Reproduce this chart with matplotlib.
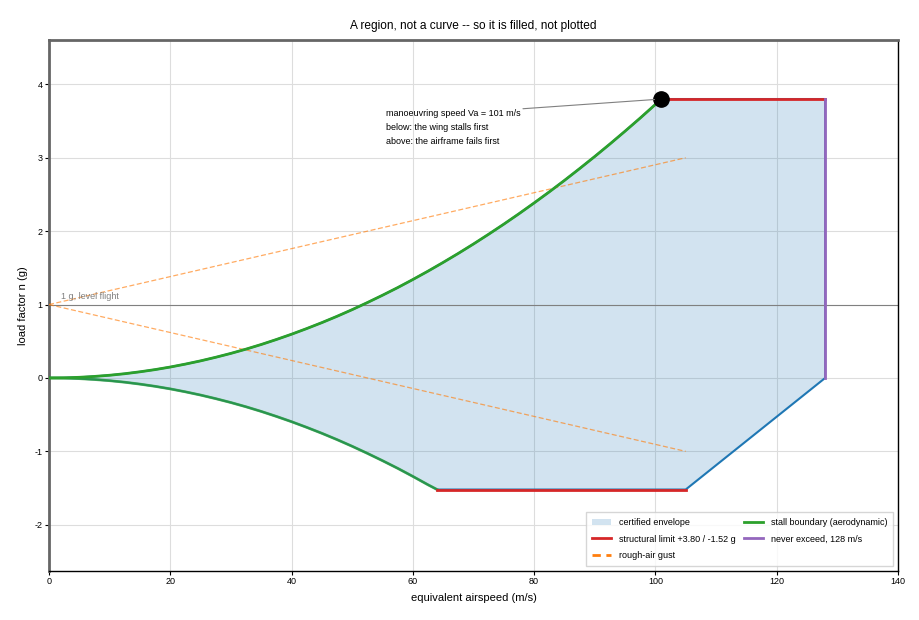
import matplotlib
matplotlib.use("Agg")
import matplotlib.pyplot as plt
from matplotlib.lines import Line2D
from matplotlib.patches import Patch

plt.rcParams['font.family'] = ['Liberation Sans', 'DejaVu Sans']
plt.rcParams['axes.unicode_minus'] = False

# ---- data ----
stall_pos_v = [0, 2.5, 5, 7.5, 10, 12.5, 15, 17.5, 20, 22.5, 25, 27.5, 30, 32.5, 35, 37.5, 40,
               42.5, 45, 47.5, 50, 52.5, 55, 57.5, 60, 62.5, 65, 67.5, 70, 72.5, 75, 77.5, 80,
               82.5, 85, 87.5, 90, 92.5, 95, 97.5, 101]
stall_pos_n = [0, 0.002, 0.009, 0.021, 0.037, 0.058, 0.084, 0.114, 0.149, 0.189, 0.233, 0.282,
               0.335, 0.393, 0.456, 0.524, 0.596, 0.673, 0.754, 0.840, 0.931, 1.027, 1.127,
               1.231, 1.341, 1.455, 1.574, 1.697, 1.825, 1.958, 2.095, 2.237, 2.384, 2.535,
               2.691, 2.852, 3.017, 3.187, 3.362, 3.541, 3.800]
stall_neg_v = [0, 2.5, 5, 7.5, 10, 12.5, 15, 17.5, 20, 22.5, 25, 27.5, 30, 32.5, 35, 37.5, 40,
               42.5, 45, 47.5, 50, 52.5, 55, 57.5, 60, 62.5, 64]
stall_neg_n = [0, -0.002, -0.009, -0.021, -0.037, -0.058, -0.084, -0.114, -0.149, -0.189,
               -0.233, -0.282, -0.335, -0.393, -0.456, -0.524, -0.596, -0.673, -0.754, -0.840,
               -0.931, -1.027, -1.127, -1.231, -1.341, -1.455, -1.520]
v_a = 101
v_neg_stall = 64
v_c = 105
v_ne = 128
n_pos = 3.80
n_neg = -1.52
gust_v = [0, 105]
gust_up = [1.0, 3.0]
gust_dn = [1.0, -1.0]

C_BLUE, C_GREEN, C_RED, C_PURP, C_ORNG = '#1f77b4', '#2ca02c', '#d62728', '#9467bd', '#ff7f0e'

fig = plt.figure(figsize=(9.2, 6.2), dpi=100)
ax = fig.add_axes([0.0533, 0.079, 0.9227, 0.856])

# envelope polygon
env_v = stall_pos_v + [v_ne, v_ne, v_c] + stall_neg_v[::-1]
env_n = stall_pos_n + [n_pos, 0, n_neg] + stall_neg_n[::-1]
ax.fill(env_v, env_n, facecolor=C_BLUE, alpha=0.2, edgecolor='none', zorder=2)
ax.plot(env_v + [env_v[0]], env_n + [env_n[0]], color=C_BLUE, lw=1.5, zorder=3)

# 1 g line
ax.axhline(1.0, color='gray', lw=0.8, zorder=2)
ax.text(2, 1.07, '1 g, level flight', color='gray', fontsize=6.5, zorder=5)

# gust lines
ax.plot(gust_v, gust_up, color=C_ORNG, lw=0.9, ls='--', dashes=(4, 2), alpha=0.65, zorder=4)
ax.plot(gust_v, gust_dn, color=C_ORNG, lw=0.9, ls='--', dashes=(4, 2), alpha=0.65, zorder=4)

# stall boundary
ax.plot(stall_pos_v, stall_pos_n, color=C_GREEN, lw=2.0, zorder=5)
ax.plot(stall_neg_v, stall_neg_n, color=C_GREEN, lw=2.0, zorder=5, alpha=0.75)

# structural limits
ax.plot([v_a, v_ne], [n_pos, n_pos], color=C_RED, lw=2.0, zorder=5)
ax.plot([v_neg_stall, v_c], [n_neg, n_neg], color=C_RED, lw=2.0, zorder=5)

# never exceed
ax.plot([v_ne, v_ne], [0, n_pos], color=C_PURP, lw=2.0, zorder=5)

# manoeuvring point
ax.plot([v_a], [n_pos], 'o', color='black', markersize=11, zorder=6)
ax.annotate('manoeuvring speed Va = %d m/s\nbelow: the wing stalls first\nabove: the airframe fails first' % v_a,
            xy=(v_a, n_pos), xytext=(55.5, 3.665), fontsize=6.5, va='top', ha='left',
            linespacing=1.75,
            arrowprops=dict(arrowstyle='-', color='gray', lw=0.8, relpos=(1.0, 1.0),
                            shrinkA=0, shrinkB=5),
            zorder=6)

ax.set_xlim(0, 140)
ax.set_ylim(-2.63, 4.6)
ax.set_xticks([0, 20, 40, 60, 80, 100, 120, 140])
ax.set_yticks([-2, -1, 0, 1, 2, 3, 4])
ax.grid(True, color='#dddddd', lw=0.8, zorder=0)
ax.set_axisbelow(True)
ax.tick_params(labelsize=6.5, length=3, pad=1.5)
ax.spines['left'].set_color('#666666')
ax.spines['left'].set_linewidth(2.0)
ax.spines['top'].set_color('#666666')
ax.spines['top'].set_linewidth(2.0)
ax.spines['bottom'].set_color('black')
ax.spines['bottom'].set_linewidth(1.0)
ax.spines['right'].set_color('black')
ax.spines['right'].set_linewidth(1.0)

ax.set_xlabel('equivalent airspeed (m/s)', fontsize=8, labelpad=5)
ax.set_ylabel('load factor n (g)', fontsize=8, labelpad=5)
ax.set_title('A region, not a curve -- so it is filled, not plotted', fontsize=8.6, pad=8)

handles = [Patch(facecolor=C_BLUE, alpha=0.2, edgecolor='none'),
           Line2D([], [], color=C_RED, lw=2.0),
           Line2D([], [], color=C_ORNG, lw=2.0, ls='--', dashes=(3, 2)),
           Line2D([], [], color=C_GREEN, lw=2.0),
           Line2D([], [], color=C_PURP, lw=2.0)]
labels = ['certified envelope', 'structural limit +%.2f / %.2f g' % (n_pos, n_neg),
          'rough-air gust', 'stall boundary (aerodynamic)', 'never exceed, %d m/s' % v_ne]
ax.legend(handles, labels, loc='lower right', ncol=2, fontsize=6.5,
          frameon=True, fancybox=False, edgecolor='#cccccc', borderaxespad=0.6,
          columnspacing=0.9, handlelength=2.2, labelspacing=0.85, borderpad=0.6)

fig.savefig('out.png', dpi=100)
